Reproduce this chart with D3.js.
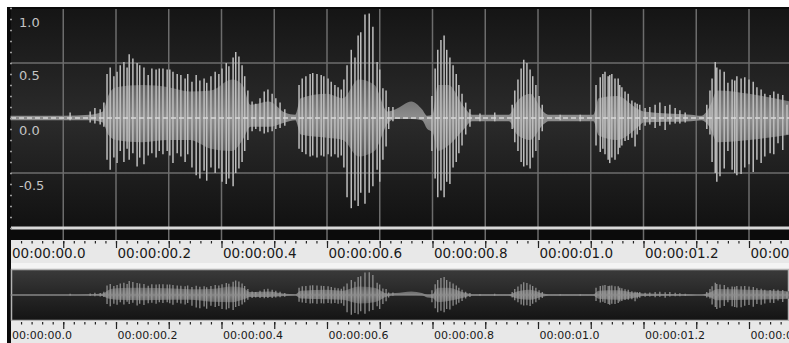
<!DOCTYPE html>
<html>
<head>
<meta charset="utf-8">
<script src="https://cdn.jsdelivr.net/npm/d3@7"></script>
<style>
  html, body { margin: 0; padding: 0; background: #fff; }
  svg { display: block; }
  .ruler path.domain { display: none; }
</style>
</head>
<body>
<div id="chart"></div>
<script>
// time ruler labels (seconds)
var timeTicks = [0, 0.2, 0.4, 0.6, 0.8, 1.0, 1.2, 1.4];
var timeLabels = ["00:00:00.0", "00:00:00.2", "00:00:00.4", "00:00:00.6",
                  "00:00:00.8", "00:00:01.0", "00:00:01.2", "00:00:01.4"];
var ampTicks = [1.0, 0.5, 0.0, -0.5];
var ampLabels = ["1.0", "0.5", "0.0", "-0.5"];

// pulse peaks of the waveform: time (ms), top and bottom amplitude
var spikeMs = [113, 151, 160, 170, 177,
  183, 189, 196, 202, 208, 215, 221, 225, 232, 240, 245, 253, 261, 268, 276, 282, 289, 297, 302, 308,
  316, 323, 331, 336, 344, 352, 359, 367, 372, 380, 388, 395, 401, 409, 414, 422, 427, 433, 439, 444, 450,
  458, 465, 473, 481, 488, 496, 503, 511, 520,
  547, 553, 560, 568, 573, 581, 589, 594, 602, 608, 615, 621, 627, 632, 638, 646, 653, 659, 664, 672,
  680, 687, 695, 700, 706, 712, 717, 725,
  799, 805, 810, 816, 822, 827, 833, 839, 845, 850, 856, 863, 871, 890, 918,
  951, 956, 962, 968, 973, 979, 985, 990, 996, 1002, 1008, 1042, 1080,
  1110, 1118, 1123, 1127, 1133, 1136, 1140, 1146, 1152, 1155, 1159, 1165, 1171, 1178, 1184, 1188, 1193,
  1203, 1212, 1222, 1231, 1241, 1250, 1260, 1269, 1279,
  1320, 1326, 1330, 1336, 1339, 1345, 1353, 1360, 1368, 1373, 1377, 1385, 1392, 1400, 1408, 1415,
  1423, 1430, 1440, 1447, 1455, 1464, 1472];
var spikeHi = [0.05, 0.06, 0.09, 0.08, 0.14,
  0.40, 0.46, 0.38, 0.42, 0.48, 0.51, 0.46, 0.58, 0.54, 0.50, 0.48, 0.46, 0.39, 0.45, 0.44, 0.45, 0.45, 0.44, 0.44, 0.42,
  0.40, 0.39, 0.36, 0.40, 0.33, 0.39, 0.34, 0.36, 0.32, 0.38, 0.42, 0.40, 0.45, 0.50, 0.47, 0.55, 0.60, 0.56, 0.48, 0.38, 0.25,
  0.15, 0.13, 0.18, 0.24, 0.26, 0.22, 0.18, 0.14, 0.08,
  0.30, 0.36, 0.38, 0.40, 0.41, 0.40, 0.39, 0.38, 0.36, 0.33, 0.30, 0.28, 0.26, 0.35, 0.48, 0.62, 0.55, 0.75, 0.78, 0.94,
  0.95, 0.83, 0.51, 0.44, 0.27, 0.25, 0.10, 0.10,
  0.20, 0.45, 0.62, 0.71, 0.75, 0.62, 0.55, 0.48, 0.40, 0.30, 0.22, 0.14, 0.08, 0.04, 0.05,
  0.12, 0.25, 0.35, 0.45, 0.53, 0.50, 0.44, 0.38, 0.30, 0.20, 0.12, 0.03, 0.03,
  0.30, 0.37, 0.40, 0.42, 0.38, 0.39, 0.40, 0.36, 0.36, 0.30, 0.28, 0.24, 0.22, 0.16, 0.14, 0.13, 0.12,
  0.09, 0.10, 0.12, 0.14, 0.11, 0.12, 0.09, 0.07, 0.05,
  0.12, 0.25, 0.36, 0.51, 0.46, 0.44, 0.42, 0.32, 0.35, 0.34, 0.38, 0.36, 0.37, 0.35, 0.33, 0.28,
  0.26, 0.22, 0.21, 0.24, 0.22, 0.21, 0.12];
var spikeLo = [-0.02, -0.04, -0.05, -0.06, -0.08,
  -0.38, -0.47, -0.36, -0.41, -0.30, -0.40, -0.28, -0.38, -0.32, -0.44, -0.36, -0.42, -0.34, -0.32, -0.36, -0.30, -0.33, -0.30, -0.34, -0.41,
  -0.32, -0.35, -0.40, -0.33, -0.45, -0.52, -0.55, -0.48, -0.57, -0.45, -0.50, -0.46, -0.58, -0.60, -0.55, -0.62, -0.50, -0.46, -0.40, -0.30, -0.20,
  -0.12, -0.10, -0.12, -0.14, -0.13, -0.12, -0.10, -0.09, -0.07,
  -0.28, -0.31, -0.33, -0.35, -0.34, -0.36, -0.34, -0.35, -0.33, -0.35, -0.33, -0.36, -0.34, -0.45, -0.72, -0.82, -0.75, -0.80, -0.68, -0.78,
  -0.68, -0.62, -0.47, -0.58, -0.38, -0.26, -0.10, -0.03,
  -0.30, -0.55, -0.72, -0.66, -0.72, -0.58, -0.60, -0.45, -0.40, -0.32, -0.25, -0.15, -0.08, -0.03, -0.03,
  -0.10, -0.22, -0.30, -0.40, -0.44, -0.43, -0.46, -0.36, -0.30, -0.20, -0.12, -0.02, -0.03,
  -0.25, -0.31, -0.28, -0.33, -0.38, -0.41, -0.36, -0.38, -0.33, -0.27, -0.25, -0.21, -0.20, -0.18, -0.26, -0.15, -0.11,
  -0.07, -0.06, -0.09, -0.07, -0.11, -0.06, -0.05, -0.05, -0.04,
  -0.10, -0.15, -0.40, -0.50, -0.58, -0.53, -0.46, -0.30, -0.47, -0.50, -0.52, -0.51, -0.45, -0.42, -0.49, -0.38,
  -0.41, -0.35, -0.32, -0.33, -0.23, -0.29, -0.15];

// filled body of the waveform: time (ms), top and bottom amplitude
var bodyMs = [0, 100, 150, 175, 185, 200, 250, 300, 340, 380, 420, 440, 455, 490, 520, 540,
  550, 600, 630, 660, 690, 715, 730, 760, 780, 790, 800, 810, 830, 860, 875, 945, 960, 985,
  1010, 1020, 1105, 1115, 1150, 1190, 1200, 1290, 1310, 1325, 1340, 1400, 1478];
var bodyHi = [0.02, 0.02, 0.03, 0.06, 0.20, 0.28, 0.30, 0.28, 0.24, 0.25, 0.35, 0.30, 0.12, 0.15, 0.05, 0.03,
  0.18, 0.22, 0.18, 0.35, 0.30, 0.06, 0.08, 0.15, 0.08, 0.02, 0.03, 0.30, 0.30, 0.10, 0.03, 0.03, 0.15, 0.22,
  0.06, 0.03, 0.03, 0.18, 0.20, 0.08, 0.06, 0.03, 0.02, 0.10, 0.25, 0.22, 0.15];
var bodyLo = [-0.02, -0.02, -0.02, -0.04, -0.15, -0.20, -0.22, -0.20, -0.20, -0.28, -0.30, -0.20, -0.08, -0.08, -0.04, -0.02,
  -0.15, -0.18, -0.20, -0.35, -0.30, -0.05, -0.01, -0.01, -0.02, -0.10, -0.13, -0.30, -0.25, -0.10, -0.03, -0.03, -0.15, -0.20,
  -0.06, -0.03, -0.03, -0.16, -0.20, -0.08, -0.04, -0.03, -0.02, -0.08, -0.22, -0.20, -0.15];

var W = 789, H = 343;
var FONT = "DejaVu Sans";

var svg = d3.select("#chart")
    .append("svg")
    .attr("width", W)
    .attr("height", H);

// scales
var x = d3.scaleLinear().domain([0, 1.4]).range([10.5, 749]);
var yMain = d3.scaleLinear().domain([-1, 1]).range([228, 8]);
var yOver = d3.scaleLinear().domain([-1, 1]).range([319, 271]);

var defs = svg.append("defs");
function vGrad(id, stops, y1, y2) {
    var g = defs.append("linearGradient").attr("id", id).attr("x1", 0).attr("x2", 0);
    if (y1 !== undefined) g.attr("gradientUnits", "userSpaceOnUse").attr("y1", y1).attr("y2", y2);
    else g.attr("y1", 0).attr("y2", 1);
    stops.forEach(s => g.append("stop").attr("offset", s[0]).attr("stop-color", s[1]));
}
vGrad("mainBg", [["0%", "#151515"], ["50%", "#2b2b2b"], ["100%", "#111"]]);
vGrad("overBg", [["0%", "#3a3a3a"], ["50%", "#262626"], ["100%", "#141414"]]);
vGrad("mainBody", [["0%", "#505050"], ["50%", "#8e8e8e"], ["100%", "#505050"]], yMain(0.4), yMain(-0.4));
vGrad("overBody", [["0%", "#4e4e4e"], ["50%", "#808080"], ["100%", "#4e4e4e"]], yOver(0.4), yOver(-0.4));

var spikes = spikeMs.map((t, i) => ({t: t / 1000, hi: spikeHi[i], lo: spikeLo[i]}));
var body = bodyMs.map((t, i) => ({t: t / 1000, hi: bodyHi[i], lo: bodyLo[i]}));

// frame
svg.append("rect").attr("x", 7).attr("y", 7).attr("width", W - 7).attr("height", H - 7).attr("fill", "#0b0b0b");
svg.append("rect").attr("x", 11).attr("y", 9).attr("width", W - 11).attr("height", 220).attr("fill", "url(#mainBg)");

// grid
var grid = svg.append("g");
grid.selectAll("line.h")
    .data([0.5, -0.5])
    .enter().append("line")
    .attr("x1", 11).attr("x2", W)
    .attr("y1", d => yMain(d)).attr("y2", d => yMain(d))
    .attr("stroke", "#6c6c6c").attr("stroke-width", 1.5);
grid.selectAll("line.v")
    .data(d3.range(1, 15).map(k => k / 10))
    .enter().append("line")
    .attr("x1", d => x(d)).attr("x2", d => x(d))
    .attr("y1", 9).attr("y2", 240)
    .attr("stroke", "#6c6c6c").attr("stroke-width", 1.5);

function drawWave(g, y, bodyFill, spikeColor, spikeW) {
    var area = d3.area()
        .curve(d3.curveMonotoneX)
        .x(d => x(d.t))
        .y0(d => y(d.lo))
        .y1(d => y(d.hi));
    g.append("path").datum(body).attr("d", area).attr("fill", bodyFill);
    g.selectAll("line.spike")
        .data(spikes)
        .enter().append("line")
        .attr("class", "spike")
        .attr("x1", d => x(d.t)).attr("x2", d => x(d.t))
        .attr("y1", d => y(d.hi)).attr("y2", d => y(d.lo))
        .attr("stroke", spikeColor).attr("stroke-width", spikeW);
}

drawWave(svg.append("g"), yMain, "url(#mainBody)", "#bebebe", 1.5);

// zero line
svg.append("line")
    .attr("x1", 11).attr("x2", W)
    .attr("y1", yMain(0)).attr("y2", yMain(0))
    .attr("stroke", "#d8d8d8").attr("stroke-width", 1.5)
    .attr("stroke-dasharray", "5,3");

// bottom edge of the main panel
svg.append("rect").attr("x", 11).attr("y", 226.5).attr("width", W - 11).attr("height", 3).attr("fill", "#d8d8d8");

// amplitude labels and dots
var yAxis = svg.append("g").attr("transform", "translate(10,0)")
    .call(d3.axisRight(yMain).tickValues(d3.range(-10, 11).map(k => k / 10)).tickSize(2).tickFormat(""));
yAxis.select(".domain").remove();
yAxis.selectAll("line").attr("stroke", "#9a9a9a").attr("stroke-width", 1.5);

svg.selectAll("text.amp")
    .data(ampTicks)
    .enter().append("text")
    .attr("x", 19)
    .attr("y", d => Math.max(yMain(d) + 16.5, 27))
    .attr("fill", "#c4c4c4")
    .attr("font-family", FONT)
    .attr("font-size", 13)
    .text((d, i) => ampLabels[i]);

// rulers
function ruler(y0, h, fontSize, labelY) {
    svg.append("rect").attr("x", 11).attr("y", y0).attr("width", W - 11).attr("height", h).attr("fill", "#e8e8e8");
    svg.append("g").attr("class", "ruler").attr("transform", `translate(0,${y0 + 1})`)
        .call(d3.axisBottom(x).tickValues(d3.range(1, 75).map(k => k / 50)).tickSize(2.5).tickFormat(""));
    svg.append("g").attr("class", "ruler").attr("transform", `translate(0,${y0 + 1})`)
        .call(d3.axisBottom(x).tickValues(d3.range(1, 15).map(k => k / 10)).tickSize(7).tickFormat(""));
    var labels = svg.append("g").attr("class", "ruler").attr("transform", `translate(0,${y0 + 1})`)
        .call(d3.axisBottom(x).tickValues(timeTicks).tickSize(0).tickFormat((d, i) => timeLabels[i]));
    svg.selectAll(".ruler line").attr("stroke", "#222").attr("stroke-width", 1.2);
    labels.attr("font-family", FONT).attr("font-size", fontSize);
    labels.selectAll("text")
        .attr("text-anchor", "start")
        .attr("x", 1)
        .attr("y", labelY)
        .attr("dy", null)
        .attr("fill", "#1a1a1a");
}

ruler(240, 23, 13.5, 17);

// overview strip
svg.append("rect").attr("x", 11).attr("y", 263).attr("width", W - 11).attr("height", 6).attr("fill", "#f4f4f4");
svg.append("rect").attr("x", 11.5).attr("y", 269.5).attr("width", W - 12).attr("height", 51)
    .attr("fill", "url(#overBg)").attr("stroke", "#b4b4b4").attr("stroke-width", 1.5);
drawWave(svg.append("g"), yOver, "url(#overBody)", "#a0a0a0", 1.1);
svg.append("line")
    .attr("x1", 12).attr("x2", W)
    .attr("y1", yOver(0)).attr("y2", yOver(0))
    .attr("stroke", "#8a8a8a").attr("stroke-width", 1);

ruler(321, 22, 11, 17);
</script>
</body>
</html>
